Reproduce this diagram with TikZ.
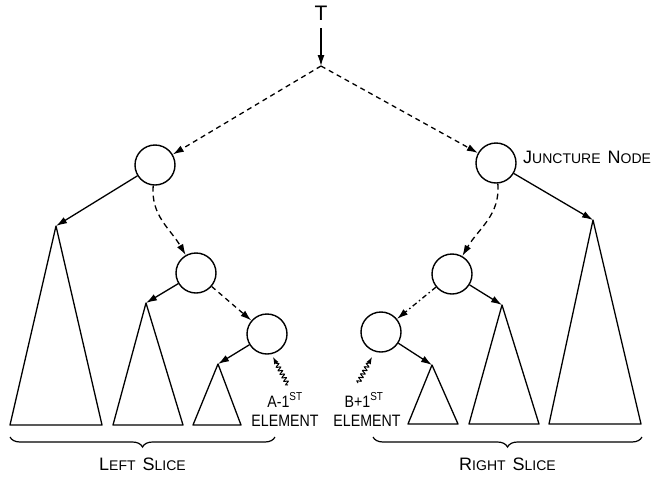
\documentclass[tikz,border=0pt]{standalone}
\usepackage{fontspec}
\setmainfont{Liberation Sans}
\usetikzlibrary{arrows.meta,decorations.pathmorphing,decorations.pathreplacing}
\newcommand{\bigsc}[2]{{\fontsize{18}{18}\selectfont #1}{\fontsize{14}{14}\selectfont #2}}
\newcommand{\narrow}[1]{\scalebox{0.86}[1]{#1}}
\tikzset{
  tnode/.style={circle,draw,line width=1.4pt,minimum size=40pt,inner sep=0pt},
  link/.style={line width=1.3pt,-{Latex[length=11pt,width=7pt]}},
  tri/.style={line width=1.3pt,line join=round},
  lbl/.style={font=\fontsize{16.5}{16.5}\selectfont,inner sep=0pt},
  wavy/.style={line width=1pt,-{Latex[length=7pt,width=5pt]},decorate,
    decoration={snake,amplitude=2pt,segment length=4pt,post length=6pt}}
}
\begin{document}
\begin{tikzpicture}[x=1pt,y=1pt]
  \useasboundingbox (0,0) rectangle (653,-485);
  \draw
    (321,-13) node[lbl,font=\fontsize{21}{21}\selectfont] (T){T}
    (321,-66) coordinate (root)
    (155,-165) node[tnode] (l1){}
    (196,-273) node[tnode] (l2){}
    (267,-334) node[tnode] (l3){}
    (496,-163) node[tnode] (r1){}
    (452,-274) node[tnode] (r2){}
    (381,-332) node[tnode] (r3){};
  % subtree apexes
  \coordinate (la) at (56,-226);
  \coordinate (lb) at (146,-303);
  \coordinate (lc) at (218,-364);
  \coordinate (ra) at (593,-220);
  \coordinate (rb) at (502,-305);
  \coordinate (rc) at (432,-365);
  % subtrees
  \draw[tri] (la) -- (10,-425) -- (102,-425) -- cycle;
  \draw[tri] (lb) -- (113,-425) -- (183,-425) -- cycle;
  \draw[tri] (lc) -- (193,-425) -- (241,-425) -- cycle;
  \draw[tri] (rc) -- (408,-424) -- (458,-424) -- cycle;
  \draw[tri] (rb) -- (469,-424) -- (539,-424) -- cycle;
  \draw[tri] (ra) -- (549,-424) -- (641,-424) -- cycle;
  \begin{scope}[link]
    \draw ([yshift=-8pt]T.south) -- (root);
    \draw[dash pattern=on 5pt off 4pt] (root) -- (l1);
    \draw[dash pattern=on 5pt off 4pt] (root) -- (r1);
    \draw (l1) -- (la);
    \draw[dash pattern=on 6pt off 4pt] (l1) to[out=-95,in=120] (l2);
    \draw (l2) -- (lb);
    \draw[dash pattern=on 5pt off 4pt] (l2) -- (l3);
    \draw (l3) -- (lc);
    \draw (r1) -- (ra);
    \draw[dash pattern=on 6pt off 4pt] (r1) to[out=-85,in=60] (r2);
    \draw (r2) -- (rb);
    \draw[dash pattern=on 5pt off 3pt on 1.5pt off 3pt] (r2) -- (r3);
    \draw (r3) -- (rc);
  \end{scope}
  % labels
  \node[anchor=west,inner sep=0pt] (jn) at (523,-157) {\bigsc{J}{UNCTURE}\hspace{7pt}\bigsc{N}{ODE}};
  \node[lbl] (am) at (285,-400) {\narrow{A-1\textsuperscript{ST}}};
  \node[lbl] (ae) at (285,-421) {\narrow{ELEMENT}};
  \node[lbl] (bm) at (364,-400) {\narrow{B+1\textsuperscript{ST}}};
  \node[lbl] (be) at (367,-421) {\narrow{ELEMENT}};
  \coordinate (aw) at (288,-385);
  \coordinate (at) at (273,-357);
  \coordinate (bw) at (358,-383);
  \coordinate (bt) at (372,-357);
  \draw[wavy] (aw) -- (at);
  \draw[wavy] (bw) -- (bt);
  % slices
  \draw[line width=1.2pt,decorate,decoration={brace,mirror,amplitude=10pt}]
    (10,-437) -- node[below=20pt,inner sep=0pt] (ls){\bigsc{L}{EFT}\hspace{7pt}\bigsc{S}{LICE}} (275,-437);
  \draw[line width=1.2pt,decorate,decoration={brace,mirror,amplitude=10pt}]
    (373,-437) -- node[below=20pt,inner sep=0pt] (rs){\bigsc{R}{IGHT}\hspace{7pt}\bigsc{S}{LICE}} (642,-437);
\end{tikzpicture}
\end{document}
